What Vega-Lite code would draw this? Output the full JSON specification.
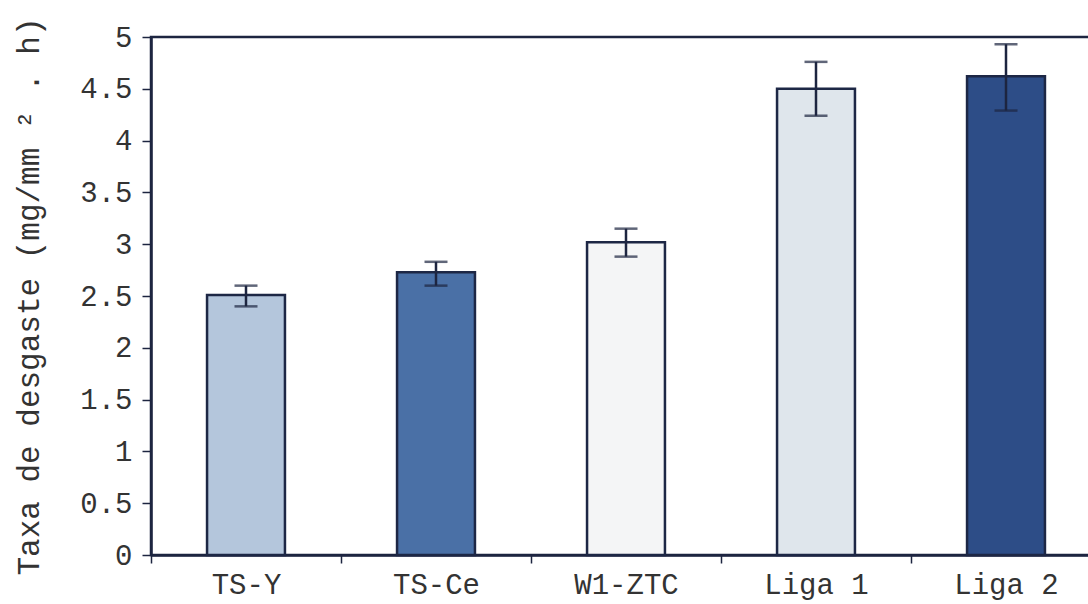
{
  "$schema": "https://vega.github.io/schema/vega-lite/v6.json",
  "autosize": {"type": "none"},
  "padding": {"left": 151, "top": 37, "right": 0, "bottom": 49},
  "width": 950,
  "height": 518,
  "background": "white",
  "config": {
    "view": {"stroke": "#1d2540", "strokeWidth": 2.5},
    "font": "Liberation Mono"
  },
  "data": {
    "values": [
      {"liga": "TS-Y", "taxa": 2.51, "lo": 2.40, "hi": 2.60, "cor": "a"},
      {"liga": "TS-Ce", "taxa": 2.73, "lo": 2.60, "hi": 2.83, "cor": "b"},
      {"liga": "W1-ZTC", "taxa": 3.02, "lo": 2.88, "hi": 3.15, "cor": "c"},
      {"liga": "Liga 1", "taxa": 4.50, "lo": 4.24, "hi": 4.76, "cor": "d"},
      {"liga": "Liga 2", "taxa": 4.62, "lo": 4.29, "hi": 4.93, "cor": "e"}
    ]
  },
  "encoding": {
    "x": {
      "field": "liga", "type": "nominal", "sort": null,
      "scale": {"paddingInner": 0, "paddingOuter": 0},
      "axis": {
        "title": null, "labelAngle": 0, "tickBand": "extent",
        "labelFont": "Liberation Mono", "labelFontSize": 29, "labelColor": "#333333",
        "labelPadding": 7, "tickSize": 8, "tickColor": "#1d2540", "tickWidth": 1.5,
        "domainColor": "#1d2540", "domainWidth": 2.5
      }
    }
  },
  "layer": [
    {
      "mark": {"type": "bar", "width": {"band": 0.41}, "stroke": "#1d2745", "strokeWidth": 2.5},
      "encoding": {
        "y": {
          "field": "taxa", "type": "quantitative",
          "scale": {"domain": [0, 5], "nice": false},
          "axis": {
            "title": "Taxa de desgaste (mg/mm ² . h)",
            "titleFont": "Liberation Mono", "titleFontSize": 31, "titleFontWeight": "normal",
            "titleColor": "#333333", "titlePadding": 34,
            "values": [0, 0.5, 1, 1.5, 2, 2.5, 3, 3.5, 4, 4.5, 5], "format": "~g",
            "labelFont": "Liberation Mono", "labelFontSize": 29, "labelColor": "#333333",
            "labelPadding": 10, "tickSize": 9, "tickColor": "#1d2540", "tickWidth": 1.5,
            "domainColor": "#1d2540", "domainWidth": 2.5, "grid": false
          }
        },
        "fill": {
          "field": "cor", "type": "nominal", "legend": null,
          "scale": {"domain": ["a", "b", "c", "d", "e"], "range": ["#b4c6dc", "#4a70a6", "#f4f5f6", "#dfe6ec", "#2d4d87"]}
        }
      }
    },
    {
      "mark": {"type": "rule", "color": "#1d2540", "strokeWidth": 2.5},
      "encoding": {
        "y": {"field": "lo", "type": "quantitative"},
        "y2": {"field": "hi"}
      }
    },
    {
      "mark": {"type": "tick", "color": "#1d2540", "size": 23, "thickness": 2.5},
      "encoding": {"y": {"field": "lo", "type": "quantitative"}}
    },
    {
      "mark": {"type": "tick", "color": "#1d2540", "size": 23, "thickness": 2.5},
      "encoding": {"y": {"field": "hi", "type": "quantitative"}}
    }
  ]
}
